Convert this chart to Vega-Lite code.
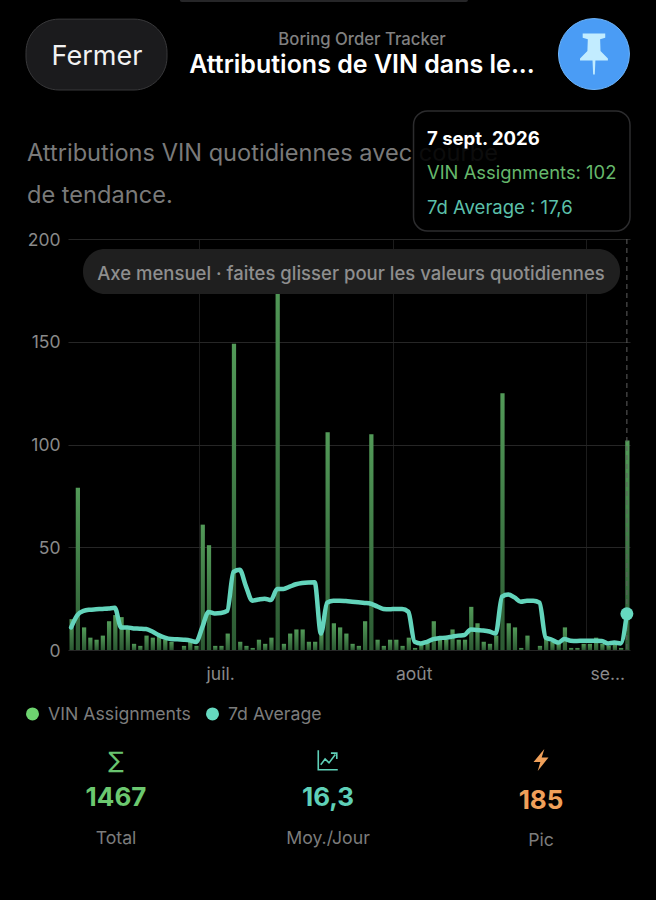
{
"$schema":"https://vega.github.io/schema/vega-lite/v6.json",
"width":562,"height":411,
"autosize":{"type":"none"},
"padding":{"left":68,"top":239,"right":26,"bottom":250},
"background":"#000000",
"config":{"view":{"stroke":null},"font":"Inter","text":{"font":"Inter","baseline":"middle","dy":1}},
"datasets":{
"one":[{}],
"days":[
{"date":"2026-06-10","vin":15,"avg":11},{"date":"2026-06-11","vin":79,"avg":17},{"date":"2026-06-12","vin":11,"avg":19},{"date":"2026-06-13","vin":6,"avg":19.6},{"date":"2026-06-14","vin":5,"avg":19.8},{"date":"2026-06-15","vin":7,"avg":20},{"date":"2026-06-16","vin":14,"avg":20.2},{"date":"2026-06-17","vin":17,"avg":20.5},{"date":"2026-06-18","vin":16,"avg":11},{"date":"2026-06-19","vin":10,"avg":11},
{"date":"2026-06-20","vin":3,"avg":10.5},{"date":"2026-06-21","vin":2,"avg":10.4},{"date":"2026-06-22","vin":7,"avg":10.2},{"date":"2026-06-23","vin":6,"avg":9},{"date":"2026-06-24","vin":7,"avg":7.3},{"date":"2026-06-25","vin":5,"avg":6},{"date":"2026-06-26","vin":4,"avg":5.3},{"date":"2026-06-27","vin":0,"avg":5.2},{"date":"2026-06-28","vin":2,"avg":5},{"date":"2026-06-29","vin":4,"avg":4.7},
{"date":"2026-06-30","vin":2,"avg":3.9},{"date":"2026-07-01","vin":61,"avg":11},{"date":"2026-07-02","vin":51,"avg":18.5},{"date":"2026-07-03","vin":2,"avg":17.8},{"date":"2026-07-04","vin":2,"avg":18},{"date":"2026-07-05","vin":8,"avg":19},{"date":"2026-07-06","vin":149,"avg":38},{"date":"2026-07-07","vin":4,"avg":39},{"date":"2026-07-08","vin":2,"avg":31},{"date":"2026-07-09","vin":1,"avg":24},
{"date":"2026-07-10","vin":5,"avg":24.6},{"date":"2026-07-11","vin":3,"avg":25},{"date":"2026-07-12","vin":6,"avg":24.3},{"date":"2026-07-13","vin":185,"avg":29.7},{"date":"2026-07-14","vin":3,"avg":29.7},{"date":"2026-07-15","vin":8,"avg":30.8},{"date":"2026-07-16","vin":10,"avg":32},{"date":"2026-07-17","vin":10,"avg":32.6},{"date":"2026-07-18","vin":4,"avg":32.9},{"date":"2026-07-19","vin":4,"avg":33},
{"date":"2026-07-20","vin":8,"avg":8},{"date":"2026-07-21","vin":106,"avg":23},{"date":"2026-07-22","vin":13,"avg":24},{"date":"2026-07-23","vin":11,"avg":24},{"date":"2026-07-24","vin":8,"avg":23.8},{"date":"2026-07-25","vin":3,"avg":23.5},{"date":"2026-07-26","vin":2,"avg":23.2},{"date":"2026-07-27","vin":14,"avg":22.9},{"date":"2026-07-28","vin":105,"avg":22.5},{"date":"2026-07-29","vin":5,"avg":21.2},
{"date":"2026-07-30","vin":2,"avg":20},{"date":"2026-07-31","vin":5,"avg":19.8},{"date":"2026-08-01","vin":5,"avg":20},{"date":"2026-08-02","vin":2,"avg":20},{"date":"2026-08-03","vin":6,"avg":18.6},{"date":"2026-08-04","vin":1,"avg":4},{"date":"2026-08-05","vin":3,"avg":3.2},{"date":"2026-08-06","vin":4,"avg":4},{"date":"2026-08-07","vin":14,"avg":5.3},{"date":"2026-08-08","vin":5,"avg":5.8},
{"date":"2026-08-09","vin":5,"avg":6},{"date":"2026-08-10","vin":10,"avg":6.5},{"date":"2026-08-11","vin":5,"avg":7},{"date":"2026-08-12","vin":5,"avg":7.3},{"date":"2026-08-13","vin":21,"avg":10},{"date":"2026-08-14","vin":13,"avg":9.7},{"date":"2026-08-15","vin":4,"avg":9.5},{"date":"2026-08-16","vin":3,"avg":9},{"date":"2026-08-17","vin":7,"avg":8},{"date":"2026-08-18","vin":125,"avg":26},
{"date":"2026-08-19","vin":13,"avg":27},{"date":"2026-08-20","vin":11,"avg":25.6},{"date":"2026-08-21","vin":1,"avg":23.5},{"date":"2026-08-22","vin":7,"avg":24},{"date":"2026-08-23","vin":0,"avg":24},{"date":"2026-08-24","vin":2,"avg":23},{"date":"2026-08-25","vin":6,"avg":6},{"date":"2026-08-26","vin":4,"avg":5},{"date":"2026-08-27","vin":3,"avg":3.6},{"date":"2026-08-28","vin":11,"avg":5.3},
{"date":"2026-08-29","vin":1,"avg":4.5},{"date":"2026-08-30","vin":1,"avg":4.4},{"date":"2026-08-31","vin":3,"avg":4.5},{"date":"2026-09-01","vin":3,"avg":4.5},{"date":"2026-09-02","vin":6,"avg":4.5},{"date":"2026-09-03","vin":3,"avg":4.4},{"date":"2026-09-04","vin":2,"avg":3.2},{"date":"2026-09-05","vin":3,"avg":3.6},{"date":"2026-09-06","vin":1,"avg":3.2},{"date":"2026-09-07","vin":102,"avg":17.6}
]},
"layer":[
{"data":{"name":"days"},
 "mark":{"type":"bar","binSpacing":2,"color":{"gradient":"linear","x1":0,"y1":0,"x2":0,"y2":1,"stops":[{"offset":0,"color":"#529a58"},{"offset":1,"color":"#2c5a33"}]}},
 "encoding":{
  "x":{"field":"date","type":"temporal","timeUnit":{"unit":"yearmonthdate","utc":true},"title":null,
   "scale":{"type":"utc","domain":[{"year":2026,"month":6,"date":10,"utc":true},{"year":2026,"month":9,"date":8,"utc":true}],"nice":false},
   "axis":{"values":[{"year":2026,"month":7,"date":1,"utc":true},{"year":2026,"month":8,"date":1,"utc":true},{"year":2026,"month":9,"date":1,"utc":true}],"grid":true,"gridColor":"#1c1c1c","gridWidth":1,"domain":false,"ticks":false,"labelExpr":"utcmonth(datum.value)==6?'juil.':utcmonth(datum.value)==7?'août':'se...'","labelOffset":21,"labelPadding":15,"labelColor":"#8a8a8a","labelFontSize":17.5,"labelFont":"Inter","labelBound":false,"labelFlush":false,"labelOverlap":false}},
  "y":{"field":"vin","type":"quantitative","title":null,
   "scale":{"domain":[0,200],"nice":false,"zero":true},
   "axis":{"values":[0,50,100,150,200],"grid":true,"gridColor":"#262626","gridWidth":1,"domain":false,"ticks":false,"labelColor":"#8a8a8a","labelFontSize":17.5,"labelFont":"Inter","labelPadding":8,"labelBaseline":"middle","labelOffset":1}}
 }},
{"data":{"name":"one"},"mark":{"type":"rule","color":"#5f5f5f","strokeDash":[5,4],"strokeWidth":1},
 "encoding":{"x":{"datum":{"year":2026,"month":9,"date":7,"hours":12,"utc":true},"type":"temporal"},"y":{"datum":200,"type":"quantitative"},"y2":{"datum":0}}},
{"data":{"name":"days"},"mark":{"type":"line","color":"#63d4bb","strokeWidth":4.5,"interpolate":"monotone","strokeCap":"round","strokeJoin":"round"},
 "encoding":{"x":{"field":"date","type":"temporal","timeUnit":{"unit":"yearmonthdate","utc":true},"bandPosition":0.5},"y":{"field":"avg","type":"quantitative"}}},
{"data":{"name":"days"},"transform":[{"filter":"datum.vin==102"}],"mark":{"type":"point","filled":true,"opacity":1,"size":169,"color":"#66d9c0"},
 "encoding":{"x":{"field":"date","type":"temporal","timeUnit":{"unit":"yearmonthdate","utc":true},"bandPosition":0.5},"y":{"field":"avg","type":"quantitative"}}},

{"data":{"name":"one"},"mark":{"type":"rect","color":"#262628","cornerRadius":2},
 "encoding":{"x":{"datum":{"year":2026,"month":6,"date":27,"hours":22,"utc":true},"type":"temporal"},"x2":{"datum":{"year":2026,"month":8,"date":13,"hours":1,"utc":true}},"y":{"datum":321,"type":"quantitative"},"y2":{"datum":315.3}}},
{"data":{"name":"one"},"mark":{"type":"rect","color":"#1b1b1d","stroke":"#38383a","strokeWidth":1,"cornerRadius":33},
 "encoding":{"x":{"datum":{"year":2026,"month":6,"date":3,"hours":6,"minutes":35,"utc":true},"type":"temporal"},"x2":{"datum":{"year":2026,"month":6,"date":25,"hours":20,"minutes":30,"utc":true}},"y":{"datum":307,"type":"quantitative"},"y2":{"datum":272.5}}},
{"data":{"name":"one"},"mark":{"type":"text","text":"Fermer","align":"center","fontSize":27,"color":"#f2f2f2"},
 "encoding":{"x":{"datum":{"year":2026,"month":6,"date":14,"hours":15,"minutes":27,"utc":true},"type":"temporal"},"y":{"datum":289,"type":"quantitative"}}},
{"data":{"name":"one"},"mark":{"type":"text","text":"Boring Order Tracker","align":"center","fontSize":16.7,"fontWeight":500,"color":"#808080"},
 "encoding":{"x":{"datum":{"year":2026,"month":7,"date":27,"hours":2,"utc":true},"type":"temporal"},"y":{"datum":297.3,"type":"quantitative"}}},
{"data":{"name":"one"},"mark":{"type":"text","text":"Attributions de VIN dans le...","align":"center","fontSize":25,"fontWeight":600,"color":"#ffffff"},
 "encoding":{"x":{"datum":{"year":2026,"month":7,"date":27,"hours":2,"utc":true},"type":"temporal"},"y":{"datum":285.2,"type":"quantitative"}}},
{"data":{"name":"one"},"mark":{"type":"point","shape":"circle","filled":true,"opacity":1,"size":5041,"color":"#4a9cf5","stroke":"#6db4fa","strokeWidth":1},
 "encoding":{"x":{"datum":{"year":2026,"month":9,"date":2,"hours":5,"minutes":30,"utc":true},"type":"temporal"},"y":{"datum":290,"type":"quantitative"}}},
{"data":{"name":"one"},"mark":{"type":"point","shape":"M-0.55,-1 L0.55,-1 L0.55,-0.8 L0.3,-0.72 L0.32,-0.15 L0.68,0.22 L0.68,0.32 L0.07,0.32 L0.04,1 L-0.04,1 L-0.07,0.32 L-0.68,0.32 L-0.68,0.22 L-0.32,-0.15 L-0.3,-0.72 L-0.55,-0.8 Z","filled":true,"opacity":1,"size":1681,"color":"#c2ecff"},
 "encoding":{"x":{"datum":{"year":2026,"month":9,"date":2,"hours":5,"minutes":30,"utc":true},"type":"temporal"},"y":{"datum":290,"type":"quantitative"}}},

{"data":{"name":"one"},"mark":{"type":"text","text":"Attributions VIN quotidiennes avec courbe","align":"left","fontSize":23.6,"color":"#7a7a7a"},
 "encoding":{"x":{"datum":{"year":2026,"month":6,"date":3,"hours":10,"minutes":25,"utc":true},"type":"temporal"},"y":{"datum":241.8,"type":"quantitative"}}},
{"data":{"name":"one"},"mark":{"type":"text","text":"de tendance.","align":"left","fontSize":23.6,"color":"#7a7a7a"},
 "encoding":{"x":{"datum":{"year":2026,"month":6,"date":3,"hours":10,"minutes":25,"utc":true},"type":"temporal"},"y":{"datum":221.4,"type":"quantitative"}}},
{"data":{"name":"one"},"mark":{"type":"rect","color":"#000000","fillOpacity":0.9,"stroke":"#2c2c2e","strokeWidth":1.5,"cornerRadius":14},
 "encoding":{"x":{"datum":{"year":2026,"month":8,"date":4,"hours":8,"utc":true},"type":"temporal"},"x2":{"datum":{"year":2026,"month":9,"date":8,"utc":true}},"y":{"datum":262.3,"type":"quantitative"},"y2":{"datum":203.9}}},
{"data":{"name":"one"},"mark":{"type":"text","text":"7 sept. 2026","align":"left","fontSize":18.5,"fontWeight":700,"color":"#ffffff"},
 "encoding":{"x":{"datum":{"year":2026,"month":8,"date":6,"hours":11,"minutes":45,"utc":true},"type":"temporal"},"y":{"datum":249.1,"type":"quantitative"}}},
{"data":{"name":"one"},"mark":{"type":"text","text":"VIN Assignments: 102","align":"left","fontSize":18.4,"color":"#66b86c"},
 "encoding":{"x":{"datum":{"year":2026,"month":8,"date":6,"hours":11,"minutes":45,"utc":true},"type":"temporal"},"y":{"datum":232.6,"type":"quantitative"}}},
{"data":{"name":"one"},"mark":{"type":"text","text":"7d Average : 17,6","align":"left","fontSize":18.5,"color":"#5cc0ab"},
 "encoding":{"x":{"datum":{"year":2026,"month":8,"date":6,"hours":11,"minutes":45,"utc":true},"type":"temporal"},"y":{"datum":215.6,"type":"quantitative"}}},
{"data":{"name":"one"},"mark":{"type":"rect","color":"#1f1f1f","cornerRadius":22},
 "encoding":{"x":{"datum":{"year":2026,"month":6,"date":12,"hours":9,"minutes":40,"utc":true},"type":"temporal"},"x2":{"datum":{"year":2026,"month":9,"date":6,"hours":9,"minutes":35,"utc":true}},"y":{"datum":195.1,"type":"quantitative"},"y2":{"datum":173.2}}},
{"data":{"name":"one"},"mark":{"type":"text","text":"Axe mensuel · faites glisser pour les valeurs quotidiennes","align":"center","fontSize":18.5,"fontWeight":500,"color":"#8e8e8e"},
 "encoding":{"x":{"datum":{"year":2026,"month":7,"date":25,"hours":7,"minutes":40,"utc":true},"type":"temporal"},"y":{"datum":183.5,"type":"quantitative"}}},

{"data":{"name":"one"},"mark":{"type":"point","shape":"circle","filled":true,"opacity":1,"size":169,"color":"#6dd36f"},
 "encoding":{"x":{"datum":{"year":2026,"month":6,"date":4,"hours":7,"minutes":30,"utc":true},"type":"temporal"},"y":{"datum":-31.1,"type":"quantitative"}}},
{"data":{"name":"one"},"mark":{"type":"text","text":"VIN Assignments","align":"left","fontSize":17.7,"color":"#7c7c7c"},
 "encoding":{"x":{"datum":{"year":2026,"month":6,"date":6,"hours":19,"minutes":10,"utc":true},"type":"temporal"},"y":{"datum":-31.1,"type":"quantitative"}}},
{"data":{"name":"one"},"mark":{"type":"point","shape":"circle","filled":true,"opacity":1,"size":169,"color":"#66d9c0"},
 "encoding":{"x":{"datum":{"year":2026,"month":7,"date":3,"hours":3,"minutes":20,"utc":true},"type":"temporal"},"y":{"datum":-31.1,"type":"quantitative"}}},
{"data":{"name":"one"},"mark":{"type":"text","text":"7d Average","align":"left","fontSize":17.7,"color":"#7c7c7c"},
 "encoding":{"x":{"datum":{"year":2026,"month":7,"date":5,"hours":15,"utc":true},"type":"temporal"},"y":{"datum":-31.1,"type":"quantitative"}}},

{"data":{"name":"one"},"mark":{"type":"text","text":"∑","align":"center","fontSize":23,"font":"DejaVu Sans","color":"#69c46f"},
 "encoding":{"x":{"datum":{"year":2026,"month":6,"date":17,"hours":16,"minutes":30,"utc":true},"type":"temporal"},"y":{"datum":-53.5,"type":"quantitative"}}},
{"data":{"name":"one"},"mark":{"type":"point","shape":"M-1,-1 L-1,1 L1,1 M-0.75,0.5 L-0.3,-0.1 L0.1,0.3 L0.75,-0.55 M0.3,-0.7 L0.9,-0.7 L0.9,-0.1","filled":false,"opacity":1,"size":380,"color":"#5fd0b8","strokeWidth":1.6},
 "encoding":{"x":{"datum":{"year":2026,"month":7,"date":21,"hours":15,"minutes":20,"utc":true},"type":"temporal"},"y":{"datum":-53.5,"type":"quantitative"}}},
{"data":{"name":"one"},"mark":{"type":"point","shape":"M0.3,-1 L-0.68,0.18 L-0.06,0.18 L-0.3,1 L0.68,-0.22 L0.06,-0.22 Z","filled":true,"opacity":1,"size":484,"color":"#f0a05a"},
 "encoding":{"x":{"datum":{"year":2026,"month":8,"date":24,"hours":18,"utc":true},"type":"temporal"},"y":{"datum":-53.5,"type":"quantitative"}}},
{"data":{"name":"one"},"mark":{"type":"text","text":"1467","align":"center","fontSize":26,"fontWeight":700,"color":"#6cc870"},
 "encoding":{"x":{"datum":{"year":2026,"month":6,"date":17,"hours":16,"minutes":30,"utc":true},"type":"temporal"},"y":{"datum":-71.5,"type":"quantitative"}}},
{"data":{"name":"one"},"mark":{"type":"text","text":"16,3","align":"center","fontSize":26,"fontWeight":700,"color":"#5fd0b8"},
 "encoding":{"x":{"datum":{"year":2026,"month":7,"date":21,"hours":15,"minutes":20,"utc":true},"type":"temporal"},"y":{"datum":-71.5,"type":"quantitative"}}},
{"data":{"name":"one"},"mark":{"type":"text","text":"185","align":"center","fontSize":26,"fontWeight":700,"color":"#f0a05a"},
 "encoding":{"x":{"datum":{"year":2026,"month":8,"date":24,"hours":18,"utc":true},"type":"temporal"},"y":{"datum":-73,"type":"quantitative"}}},
{"data":{"name":"one"},"mark":{"type":"text","text":"Total","align":"center","fontSize":17.7,"color":"#7c7c7c"},
 "encoding":{"x":{"datum":{"year":2026,"month":6,"date":17,"hours":16,"minutes":30,"utc":true},"type":"temporal"},"y":{"datum":-91.5,"type":"quantitative"}}},
{"data":{"name":"one"},"mark":{"type":"text","text":"Moy./Jour","align":"center","fontSize":17.7,"color":"#7c7c7c"},
 "encoding":{"x":{"datum":{"year":2026,"month":7,"date":21,"hours":15,"minutes":20,"utc":true},"type":"temporal"},"y":{"datum":-91.5,"type":"quantitative"}}},
{"data":{"name":"one"},"mark":{"type":"text","text":"Pic","align":"center","fontSize":17.7,"color":"#7c7c7c"},
 "encoding":{"x":{"datum":{"year":2026,"month":8,"date":24,"hours":18,"utc":true},"type":"temporal"},"y":{"datum":-92.5,"type":"quantitative"}}}
]
}
